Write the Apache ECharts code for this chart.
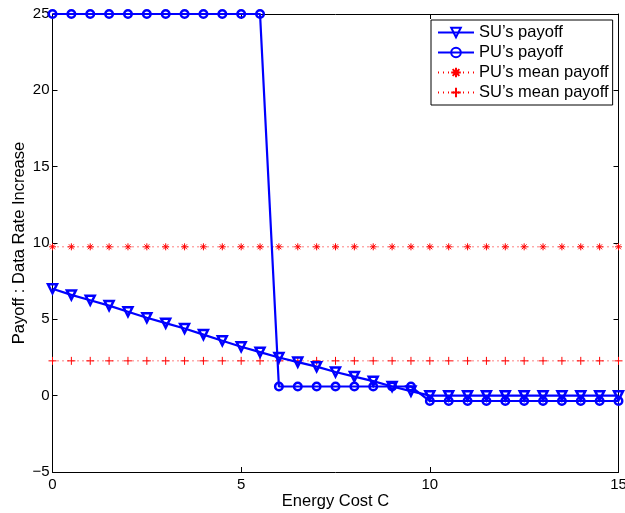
<!DOCTYPE html>
<html>
<head>
<meta charset="utf-8">
<script src="https://cdn.jsdelivr.net/npm/echarts@6/dist/echarts.min.js"></script>
<style>
  html, body { margin: 0; padding: 0; background: #fff; }
  #chart { width: 625px; height: 513px; }
</style>
</head>
<body>
<div id="chart"></div>
<script>
// energy cost C, step 0.5
const energyCost = [0, 0.5, 1, 1.5, 2, 2.5, 3, 3.5, 4, 4.5, 5, 5.5, 6, 6.5, 7, 7.5,
  8, 8.5, 9, 9.5, 10, 10.5, 11, 11.5, 12, 12.5, 13, 13.5, 14, 14.5, 15];
const suPayoff = [7.0, 6.6, 6.25, 5.9, 5.5, 5.1, 4.75, 4.4, 4.0, 3.6, 3.2, 2.85, 2.5,
  2.2, 1.9, 1.55, 1.25, 0.95, 0.6, 0.3, 0, 0, 0, 0, 0, 0, 0, 0, 0, 0, 0];
const puPayoff = [25, 25, 25, 25, 25, 25, 25, 25, 25, 25, 25, 25, 0.6, 0.6, 0.6, 0.6,
  0.6, 0.6, 0.6, 0.6, -0.35, -0.35, -0.35, -0.35, -0.35, -0.35, -0.35, -0.35, -0.35, -0.35, -0.35];
const puMean = 9.75;
const suMean = 2.28;
const xTicks = [0, 5, 10, 15];

const pairs = ys => energyCost.map((x, i) => [x, ys[i]]);
const flat = v => energyCost.map(x => [x, v]);

const PLUS = 'path://M5 0 L5 10 M0 5 L10 5';
const STAR = 'path://M5 0 L5 10 M0 5 L10 5 M1.5 1.5 L8.5 8.5 M1.5 8.5 L8.5 1.5';
const font = 'Liberation Sans, Arial, Helvetica, sans-serif';

const chart = echarts.init(document.getElementById('chart'));
const boxAxis = {
  axisLine: { onZero: false, lineStyle: { color: '#000', width: 1 } },
  axisTick: { inside: true, length: 5, lineStyle: { color: '#000' } },
  axisLabel: { show: false },
  splitLine: { show: false }
};
chart.setOption({
  animation: false,
  backgroundColor: '#fff',
  textStyle: { fontFamily: font },
  grid: { left: 52.5, right: 6.5, top: 14, bottom: 41, outerBoundsMode: 'none', containLabel: false },
  legend: {
    orient: 'vertical', left: 431, top: 20,
    padding: [4, 4, 4, 6], itemGap: 3, itemWidth: 36, itemHeight: 12,
    backgroundColor: '#fff', borderColor: '#000', borderWidth: 1,
    textStyle: { fontSize: 16.5, lineHeight: 17, color: '#000', fontFamily: font },
    data: ['SU’s payoff', 'PU’s payoff', 'PU’s mean payoff', 'SU’s mean payoff']
  },
  xAxis: [{
    type: 'value', min: 0, max: 15, interval: 5,
    name: 'Energy Cost C', nameLocation: 'middle', nameGap: 21, nameMoveOverlap: false,
    nameTextStyle: { fontSize: 16.5, color: '#000' },
    axisLine: { onZero: false, lineStyle: { color: '#000', width: 1 } },
    axisTick: { inside: true, length: 5, lineStyle: { color: '#000' } },
    axisLabel: { fontSize: 15, color: '#000', margin: 5,
      formatter: v => xTicks.includes(v) ? String(v) : '' },
    splitLine: { show: false }
  }, Object.assign({}, boxAxis, { type: 'value', position: 'top', min: 0, max: 15, interval: 5 })],
  yAxis: [{
    type: 'value', min: -5, max: 25, interval: 5,
    name: 'Payoff : Data Rate Increase', nameLocation: 'middle', nameGap: 25, nameMoveOverlap: false,
    nameTextStyle: { fontSize: 16.5, color: '#000' },
    axisLine: { onZero: false, lineStyle: { color: '#000', width: 1 } },
    axisTick: { inside: true, length: 5, lineStyle: { color: '#000' } },
    axisLabel: { fontSize: 15, color: '#000', margin: 3,
      formatter: v => v < 0 ? '\u2212' + Math.abs(v) : String(v) },
    splitLine: { show: false }
  }, Object.assign({}, boxAxis, { type: 'value', position: 'right', min: -5, max: 25, interval: 5 })],
  series: [
    {
      name: 'PU’s mean payoff', type: 'line', data: flat(puMean), z: 2,
      symbol: STAR, symbolSize: 7,
      lineStyle: { color: '#ff0000', width: 1, type: [1, 4] },
      itemStyle: { color: 'transparent', borderColor: '#ff0000', borderWidth: 1 }
    },
    {
      name: 'SU’s mean payoff', type: 'line', data: flat(suMean), z: 2,
      symbol: PLUS, symbolSize: 8,
      lineStyle: { color: '#ff0000', width: 1, type: [1, 4] },
      itemStyle: { color: 'transparent', borderColor: '#ff0000', borderWidth: 1 }
    },
    {
      name: 'SU’s payoff', type: 'line', data: pairs(suPayoff), z: 3,
      symbol: 'triangle', symbolRotate: 180, symbolSize: 9,
      lineStyle: { color: '#0000ff', width: 2.2 },
      itemStyle: { color: 'transparent', borderColor: '#0000ff', borderWidth: 2.5 }
    },
    {
      name: 'PU’s payoff', type: 'line', data: pairs(puPayoff), z: 4,
      symbol: 'circle', symbolSize: 7.5,
      lineStyle: { color: '#0000ff', width: 2.2 },
      itemStyle: { color: 'transparent', borderColor: '#0000ff', borderWidth: 2.5 }
    }
  ]
});
</script>
</body>
</html>
